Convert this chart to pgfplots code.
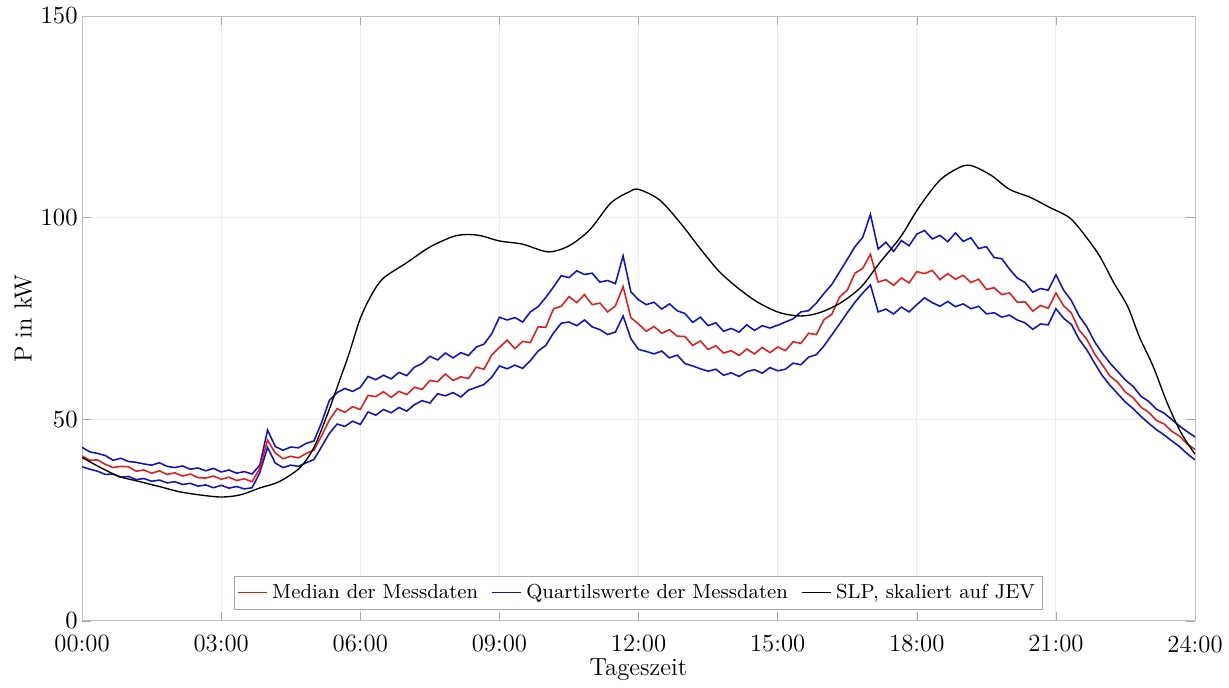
\documentclass[border=0pt]{standalone}
\usepackage{pgfplots}
\usepackage{pgfplotstable}
\pgfplotsset{compat=1.18}
\definecolor{mred}{RGB}{225,30,30}
\definecolor{mblue}{RGB}{20,20,190}
\pgfplotstableread{
t med upq loq
0 40.9 43.0 38.2
10 39.8 41.9 37.6
20 39.9 41.5 37.1
30 38.8 41.0 36.3
40 38.0 39.8 36.4
50 38.3 40.3 35.6
60 38.2 39.5 35.8
70 37.1 39.3 35.0
80 37.4 38.9 35.3
90 36.6 38.6 34.6
100 37.2 39.2 34.9
110 36.3 38.3 34.2
120 36.7 38.0 34.5
130 35.9 38.4 33.8
140 36.4 37.6 34.1
150 35.5 37.9 33.4
160 35.4 37.2 33.7
170 35.9 37.8 33.0
180 35.1 36.9 33.6
190 35.6 37.4 32.9
200 34.8 36.6 33.3
210 35.2 37.0 32.7
220 34.5 36.4 33.0
230 37.8 38.6 36.8
240 44.8 47.3 43.0
250 41.6 43.2 39.1
260 40.2 42.3 38.0
270 40.8 43.1 38.6
280 40.4 42.9 38.3
290 41.5 44.0 39.2
300 42.3 44.6 40.0
310 45.9 49.2 43.2
320 49.8 54.7 46.5
330 52.6 56.6 48.8
340 51.7 57.6 48.2
350 53.1 56.9 49.5
360 52.4 57.9 48.7
370 55.9 60.6 51.8
380 55.6 59.8 51.0
390 56.8 60.9 52.4
400 55.4 60.0 51.6
410 56.9 61.6 52.9
420 56.1 60.8 52.0
430 57.9 62.9 53.6
440 57.4 63.8 54.6
450 59.6 65.6 54.0
460 59.3 64.7 56.3
470 61.2 66.4 55.8
480 59.6 65.2 56.6
490 60.5 66.5 55.5
500 60.1 65.8 57.2
510 62.9 67.9 57.9
520 62.4 68.6 58.6
530 65.9 71.2 60.4
540 67.8 75.3 63.2
550 69.6 74.6 62.5
560 67.5 75.2 63.4
570 69.3 74.1 62.6
580 69.0 76.6 64.5
590 72.9 77.9 66.9
600 72.8 80.2 68.3
610 77.4 82.8 71.4
620 78.0 85.6 73.8
630 80.4 85.1 74.1
640 78.9 86.8 73.2
650 80.9 85.9 74.6
660 78.4 86.2 72.9
670 78.8 84.0 72.2
680 76.6 84.4 71.0
690 78.1 83.6 71.6
700 82.9 90.5 75.6
710 75.2 81.6 70.0
720 73.6 79.6 67.3
730 71.8 78.4 66.8
740 73.0 79.0 66.2
750 71.3 77.3 66.9
760 72.2 78.6 65.2
770 70.6 76.9 65.9
780 70.5 76.2 63.8
790 68.3 74.0 63.2
800 69.4 75.3 62.5
810 67.3 73.2 61.9
820 68.2 73.9 62.4
830 66.4 71.8 60.9
840 67.0 72.5 61.5
850 65.8 71.6 60.6
860 67.4 73.4 61.8
870 66.2 72.0 62.3
880 67.8 73.2 61.4
890 66.5 72.6 62.8
900 67.9 73.3 62.0
910 67.0 74.1 62.4
920 69.2 74.9 63.9
930 68.8 76.6 63.5
940 71.3 76.9 65.4
950 71.0 78.8 66.0
960 74.7 81.2 68.2
970 76.0 83.4 70.9
980 80.3 86.5 73.6
990 82.0 89.6 76.4
1000 86.2 92.8 79.0
1010 87.4 95.1 81.3
1020 90.9 100.8 83.3
1030 84.0 92.2 76.6
1040 84.6 93.9 77.3
1050 83.2 91.6 76.1
1060 85.0 94.3 77.8
1070 83.8 93.0 76.6
1080 86.6 95.9 78.4
1090 86.1 96.8 80.1
1100 86.9 94.7 78.9
1110 84.6 95.6 78.0
1120 86.1 94.0 79.2
1130 84.7 96.2 77.9
1140 85.7 94.1 78.6
1150 83.9 95.0 77.4
1160 84.7 92.3 78.0
1170 82.2 92.8 76.1
1180 82.6 90.1 76.4
1190 80.9 89.8 75.3
1200 81.3 87.2 75.8
1210 79.0 85.0 74.6
1220 79.1 83.9 73.9
1230 76.8 81.5 72.3
1240 78.2 82.4 73.6
1250 77.5 82.0 73.4
1260 81.3 85.8 77.4
1270 78.1 82.0 75.0
1280 76.3 79.4 73.5
1290 72.1 75.6 69.8
1300 69.8 72.9 67.2
1310 66.2 69.2 63.9
1320 63.5 66.4 60.8
1330 60.7 63.9 58.4
1340 59.1 61.8 56.3
1350 56.7 59.7 54.2
1360 55.3 58.1 52.6
1370 53.0 55.7 50.7
1380 51.7 54.4 49.0
1390 49.7 52.5 47.4
1400 48.8 51.5 46.1
1410 47.0 49.9 44.6
1420 45.8 48.3 43.2
1430 43.8 46.9 41.4
1440 42.5 45.6 39.9
}\messdaten
\pgfplotstableread{
t slp
0 40.5
24 38
48 35.8
75 34.5
102 33.2
126 32
153 31.2
180 30.7
204 31.2
231 33
255 34.5
282 38
300 43
318 51.5
333 59.5
345 66
360 75
375 81
390 85
420 88.8
450 92.7
480 95.3
498 95.8
516 95.5
540 94.2
570 93.4
603 91.5
630 93
657 97
684 103.6
708 106.4
720 107
747 104.4
774 98.7
801 92
825 86.5
852 82
876 78.8
903 76.4
930 75.6
954 76.4
981 78.8
1008 82.8
1032 88.8
1059 95.2
1083 102.6
1110 109.3
1137 112.6
1152 112.8
1176 110.5
1200 107
1227 105
1251 102.6
1278 99.9
1299 95.2
1317 90.3
1335 83.8
1353 77.9
1368 70.4
1386 63
1404 54
1422 46.6
1440 41.3
}\slpdaten
\begin{document}
\begin{tikzpicture}
\begin{axis}[
  scale only axis,
  width=495pt, height=269pt,
  xmin=0, xmax=1440, ymin=0, ymax=150,
  xtick={0,180,...,1440},
  xticklabels={00:00,03:00,06:00,09:00,12:00,15:00,18:00,21:00,24:00},
  ytick={0,50,100,150},
  grid=major,
  major grid style={gray!15, line width=0.4pt},
  axis line style={gray!50},
  tick style={gray!70},
  tick align=inside,
  major tick length=4pt,
  tick label style={font=\fontsize{11}{13}\selectfont},
  label style={font=\fontsize{11}{13}\selectfont},
  xticklabel style={inner sep=0pt, yshift=-6.3pt},
  yticklabel style={inner sep=1pt, xshift=-0.8pt},
  xlabel={Tageszeit},
  ylabel={P in kW},
  xlabel style={inner sep=0pt, yshift=-2.4pt},
  ylabel style={yshift=-0.7pt},
  legend columns=3,
  legend style={at={(0.5,0.018)}, anchor=south, font=\small,
    draw=gray!70, inner sep=1.5pt,
    /tikz/every even column/.append style={column sep=4pt}},
  legend image post style={xscale=0.75},
]
\addlegendimage{mred, line width=0.6pt}
\addlegendentry{Median der Messdaten}
\addlegendimage{mblue, line width=0.6pt}
\addlegendentry{Quartilswerte der Messdaten}
\addlegendimage{black, line width=0.6pt}
\addlegendentry{SLP, skaliert auf JEV}
\addplot[mblue, line width=0.7pt, forget plot] table[x=t,y=upq]{\messdaten};
\addplot[mblue, line width=0.7pt, forget plot] table[x=t,y=loq]{\messdaten};
\addplot[mred, line width=0.7pt, forget plot] table[x=t,y=med]{\messdaten};
\addplot[black, line width=0.6pt, smooth, forget plot] table[x=t,y=slp]{\slpdaten};
\end{axis}
\path ([xshift=-36.5pt,yshift=7.1pt]current axis.north west) ([xshift=15.1pt,yshift=-29.8pt]current axis.south east);
\end{tikzpicture}
\end{document}
